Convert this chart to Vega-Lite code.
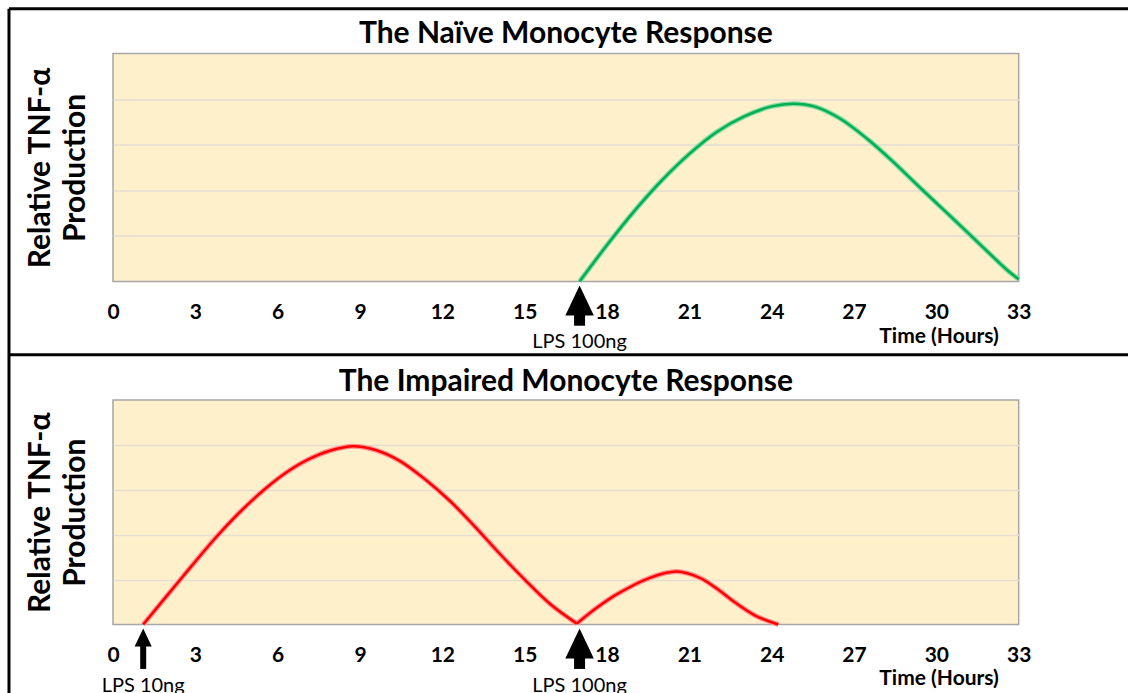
{
  "$schema": "https://vega.github.io/schema/vega-lite/v6.json",
  "padding": {"left": 6, "top": 6.5, "right": 0, "bottom": 0},
  "bounds": "flush",
  "spacing": 118.5,
  "background": "white",
  "config": {
    "font": "Lato",
    "view": {"fill": "#FFF0CC", "stroke": "#A6A6A6", "strokeWidth": 1.5},
    "axisX": {"grid": false, "domain": false, "ticks": false, "labelFontSize": 21, "labelFontWeight": "bold", "labelColor": "#000000", "labelPadding": 20, "labelFlush": false, "title": null},
    "axisY": {"labels": false, "ticks": false, "domain": false, "grid": true, "gridColor": "#E6DDCF", "gridWidth": 1.5, "titleFontSize": 30, "titleFontWeight": "bold", "titleColor": "#000000", "titlePadding": 22, "titleLineHeight": 35}
  },
  "datasets": {
    "naive": [
      {"hour": 17.0, "tnf": 0.0},
      {"hour": 18.0, "tnf": 0.8},
      {"hour": 19.0, "tnf": 1.55},
      {"hour": 20.0, "tnf": 2.22},
      {"hour": 21.0, "tnf": 2.8},
      {"hour": 22.0, "tnf": 3.28},
      {"hour": 23.0, "tnf": 3.62},
      {"hour": 24.0, "tnf": 3.84},
      {"hour": 24.8, "tnf": 3.9},
      {"hour": 25.6, "tnf": 3.83},
      {"hour": 26.5, "tnf": 3.57},
      {"hour": 27.5, "tnf": 3.12},
      {"hour": 28.4, "tnf": 2.64},
      {"hour": 29.3, "tnf": 2.12},
      {"hour": 30.25, "tnf": 1.58},
      {"hour": 31.2, "tnf": 1.04},
      {"hour": 32.1, "tnf": 0.52},
      {"hour": 32.6, "tnf": 0.24},
      {"hour": 33.0, "tnf": 0.05}
    ],
    "impaired": [
      {"phase": "10ng", "hour": 1.1, "tnf": 0.0},
      {"phase": "10ng", "hour": 2.56, "tnf": 1.08},
      {"phase": "10ng", "hour": 3.78, "tnf": 1.96},
      {"phase": "10ng", "hour": 4.7, "tnf": 2.55},
      {"phase": "10ng", "hour": 5.6, "tnf": 3.05},
      {"phase": "10ng", "hour": 6.3, "tnf": 3.38},
      {"phase": "10ng", "hour": 7.06, "tnf": 3.66},
      {"phase": "10ng", "hour": 7.9, "tnf": 3.87},
      {"phase": "10ng", "hour": 8.75, "tnf": 3.97},
      {"phase": "10ng", "hour": 9.6, "tnf": 3.88},
      {"phase": "10ng", "hour": 10.46, "tnf": 3.64},
      {"phase": "10ng", "hour": 11.4, "tnf": 3.22},
      {"phase": "10ng", "hour": 12.28, "tnf": 2.75},
      {"phase": "10ng", "hour": 13.2, "tnf": 2.17},
      {"phase": "10ng", "hour": 14.1, "tnf": 1.57},
      {"phase": "10ng", "hour": 15.0, "tnf": 1.0},
      {"phase": "10ng", "hour": 15.94, "tnf": 0.45},
      {"phase": "10ng", "hour": 16.9, "tnf": 0.02},
      {"phase": "100ng", "hour": 16.9, "tnf": 0.02},
      {"phase": "100ng", "hour": 17.6, "tnf": 0.36},
      {"phase": "100ng", "hour": 18.35, "tnf": 0.67},
      {"phase": "100ng", "hour": 19.56, "tnf": 1.04},
      {"phase": "100ng", "hour": 20.54, "tnf": 1.18},
      {"phase": "100ng", "hour": 21.38, "tnf": 1.04},
      {"phase": "100ng", "hour": 22.0, "tnf": 0.8},
      {"phase": "100ng", "hour": 22.6, "tnf": 0.52},
      {"phase": "100ng", "hour": 23.4, "tnf": 0.2},
      {"phase": "100ng", "hour": 24.24, "tnf": 0.0}
    ],
    "naiveDoses": [
      {"hour": 17.0, "dose": 100, "label": "LPS 100ng"}
    ],
    "impairedDoses": [
      {"hour": 1.1, "dose": 10, "label": "LPS 10ng"},
      {"hour": 17.0, "dose": 100, "label": "LPS 100ng"}
    ]
  },
  "vconcat": [
    {
      "width": 905.7,
      "height": 228,
      "layer": [
        {
          "data": {"name": "naive"},
          "mark": {"type": "line", "interpolate": "catmull-rom", "color": "#86D9A4", "strokeWidth": 5, "clip": false},
          "encoding": {
            "x": {"field": "hour", "type": "quantitative", "scale": {"domain": [0, 33], "nice": false, "zero": false}, "axis": {"values": [0, 3, 6, 9, 12, 15, 18, 21, 24, 27, 30, 33]}},
            "y": {"field": "tnf", "type": "quantitative", "scale": {"domain": [0, 5], "nice": false}, "axis": {"values": [1, 2, 3, 4], "title": ["Relative TNF-α", "Production"]}}
          }
        },
        {
          "data": {"name": "naive"},
          "mark": {"type": "line", "interpolate": "catmull-rom", "color": "#00B050", "strokeWidth": 2.5, "clip": false},
          "encoding": {
            "x": {"field": "hour", "type": "quantitative"},
            "y": {"field": "tnf", "type": "quantitative"}
          }
        },
        {
          "data": {"name": "naiveDoses"},
          "mark": {"type": "rule", "color": "#000000", "clip": false},
          "encoding": {
            "x": {"field": "hour", "type": "quantitative"},
            "y": {"datum": -0.4, "type": "quantitative"},
            "y2": {"datum": -0.97},
            "strokeWidth": {"field": "dose", "type": "quantitative", "scale": {"domain": [10, 100], "range": [6, 11]}, "legend": null}
          }
        },
        {
          "data": {"name": "naiveDoses"},
          "mark": {"type": "point", "shape": "M0,0L-0.95,2L0.95,2Z", "filled": true, "color": "#000000", "opacity": 1, "clip": false},
          "encoding": {
            "x": {"field": "hour", "type": "quantitative"},
            "y": {"datum": -0.09, "type": "quantitative"},
            "size": {"field": "dose", "type": "quantitative", "scale": {"domain": [10, 100], "range": [324, 900]}, "legend": null}
          }
        },
        {
          "data": {"name": "naiveDoses"},
          "mark": {"type": "text", "fontSize": 20, "color": "#000000", "baseline": "middle", "clip": false},
          "encoding": {
            "x": {"field": "hour", "type": "quantitative"},
            "y": {"datum": -1.33, "type": "quantitative"},
            "text": {"field": "label"}
          }
        },
        {
          "data": {"values": [{"label": "Time (Hours)"}]},
          "mark": {"type": "text", "fontSize": 21, "fontWeight": "bold", "color": "#000000", "baseline": "middle", "clip": false},
          "encoding": {
            "x": {"datum": 30.1, "type": "quantitative"},
            "y": {"datum": -1.22, "type": "quantitative"},
            "text": {"field": "label"}
          }
        },
        {
          "data": {"values": [{"label": "The Naïve Monocyte Response"}]},
          "mark": {"type": "text", "fontSize": 30, "fontWeight": "bold", "color": "#000000", "baseline": "middle", "clip": false},
          "encoding": {
            "x": {"datum": 16.5, "type": "quantitative"},
            "y": {"datum": 5.43, "type": "quantitative"},
            "text": {"field": "label"}
          }
        },
        {
          "data": {"values": [{}]},
          "mark": {"type": "rule", "color": "#000000", "strokeWidth": 3, "clip": false},
          "encoding": {
            "x": {"datum": -3.79, "type": "quantitative"},
            "x2": {"datum": 38},
            "y": {"datum": 5.98, "type": "quantitative"}
          }
        },
        {
          "data": {"values": [{}]},
          "mark": {"type": "rule", "color": "#000000", "strokeWidth": 3, "clip": false},
          "encoding": {
            "x": {"datum": -3.79, "type": "quantitative"},
            "y": {"datum": 5.98, "type": "quantitative"},
            "y2": {"datum": -1.61}
          }
        }
      ]
    },
    {
      "width": 905.7,
      "height": 224.5,
      "layer": [
        {
          "data": {"name": "impaired"},
          "mark": {"type": "line", "interpolate": "catmull-rom", "color": "#FF9090", "strokeWidth": 5, "clip": false},
          "encoding": {
            "x": {"field": "hour", "type": "quantitative", "scale": {"domain": [0, 33], "nice": false, "zero": false}, "axis": {"values": [0, 3, 6, 9, 12, 15, 18, 21, 24, 27, 30, 33]}},
            "y": {"field": "tnf", "type": "quantitative", "scale": {"domain": [0, 5], "nice": false}, "axis": {"values": [1, 2, 3, 4], "title": ["Relative TNF-α", "Production"]}},
            "detail": {"field": "phase"}
          }
        },
        {
          "data": {"name": "impaired"},
          "mark": {"type": "line", "interpolate": "catmull-rom", "color": "#FF0000", "strokeWidth": 2.5, "clip": false},
          "encoding": {
            "x": {"field": "hour", "type": "quantitative"},
            "y": {"field": "tnf", "type": "quantitative"},
            "detail": {"field": "phase"}
          }
        },
        {
          "data": {"name": "impairedDoses"},
          "mark": {"type": "rule", "color": "#000000", "clip": false},
          "encoding": {
            "x": {"field": "hour", "type": "quantitative"},
            "y": {"datum": -0.4, "type": "quantitative"},
            "y2": {"datum": -0.99},
            "strokeWidth": {"field": "dose", "type": "quantitative", "scale": {"domain": [10, 100], "range": [6, 11]}, "legend": null}
          }
        },
        {
          "data": {"name": "impairedDoses"},
          "mark": {"type": "point", "shape": "M0,0L-0.95,2L0.95,2Z", "filled": true, "color": "#000000", "opacity": 1, "clip": false},
          "encoding": {
            "x": {"field": "hour", "type": "quantitative"},
            "y": {"datum": -0.09, "type": "quantitative"},
            "size": {"field": "dose", "type": "quantitative", "scale": {"domain": [10, 100], "range": [324, 900]}, "legend": null}
          }
        },
        {
          "data": {"name": "impairedDoses"},
          "mark": {"type": "text", "fontSize": 20, "color": "#000000", "baseline": "middle", "clip": false},
          "encoding": {
            "x": {"field": "hour", "type": "quantitative"},
            "y": {"datum": -1.36, "type": "quantitative"},
            "text": {"field": "label"}
          }
        },
        {
          "data": {"values": [{"label": "Time (Hours)"}]},
          "mark": {"type": "text", "fontSize": 21, "fontWeight": "bold", "color": "#000000", "baseline": "middle", "clip": false},
          "encoding": {
            "x": {"datum": 30.1, "type": "quantitative"},
            "y": {"datum": -1.22, "type": "quantitative"},
            "text": {"field": "label"}
          }
        },
        {
          "data": {"values": [{"label": "The Impaired Monocyte Response"}]},
          "mark": {"type": "text", "fontSize": 30, "fontWeight": "bold", "color": "#000000", "baseline": "middle", "clip": false},
          "encoding": {
            "x": {"datum": 16.5, "type": "quantitative"},
            "y": {"datum": 5.41, "type": "quantitative"},
            "text": {"field": "label"}
          }
        },
        {
          "data": {"values": [{}]},
          "mark": {"type": "rule", "color": "#000000", "strokeWidth": 3, "clip": false},
          "encoding": {
            "x": {"datum": -3.79, "type": "quantitative"},
            "x2": {"datum": 38},
            "y": {"datum": 6.01, "type": "quantitative"}
          }
        },
        {
          "data": {"values": [{}]},
          "mark": {"type": "rule", "color": "#000000", "strokeWidth": 3, "clip": false},
          "encoding": {
            "x": {"datum": -3.79, "type": "quantitative"},
            "y": {"datum": 6.01, "type": "quantitative"},
            "y2": {"datum": -2.5}
          }
        }
      ]
    }
  ]
}
